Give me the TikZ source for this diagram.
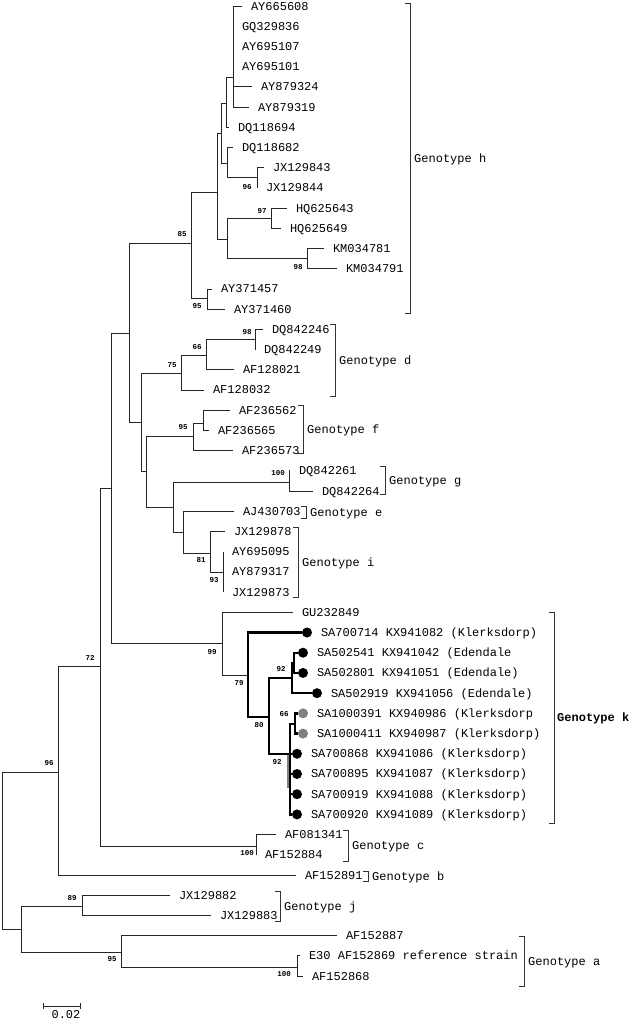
\documentclass[tikz,border=0pt]{standalone}
\usepackage{fontspec}
\setmonofont{Liberation Mono}
\usetikzlibrary{positioning}
\newcommand{\accsize}{\ttfamily\fontsize{12}{14}\selectfont}
\newcommand{\bootsize}{\ttfamily\bfseries\fontsize{7.5}{8}\selectfont}

\begin{document}
\begin{tikzpicture}[x=1pt, y=-1pt,
  br/.style={line width=0.85pt, black!85},
  kbr/.style={line width=2.4pt, black},
  leaf/.style={anchor=west, inner xsep=9pt, inner ysep=0pt, outer sep=0pt,
    text height=8pt, text depth=0pt, font=\accsize},
  sdot/.style={circle, fill=black, inner sep=0pt, outer sep=0pt, minimum size=10pt},
  boot/.style={font=\bootsize, inner sep=0pt},
  brk/.style={line width=0.85pt, black!80},
  gtype/.style={anchor=west, inner sep=0pt, text height=8pt, text depth=0pt, font=\accsize}]
\useasboundingbox[fill=white] (0,0) rectangle (631,1020);

% internal nodes of the tree
\foreach \n/\x/\y in {root/2/850, n96/58/772, nja/21/929, n72/100/666, nX1/111/488,
    nX2/129/333, n85/191/243, nD/217/192, nB/221/133, nA/226/103, nAY/233/77,
    nC/227/163, nJX/257/177, nE/227/239, nHQ/271/218, nKM/307/258, nAY371/207/298,
    nDFGEI/141/422, nd75/181/373, nd66/206/355, nd98/255/339, nFGEI/146/471,
    nf95/193/436, nf2/203/423, nGEI/173/507, ng100/289/482, nEI/183/532,
    nI81/210/553, nI93/223/572, n99/222/643, n79/248/675, n80/269/717,
    nE92/292/678, nE2/294/663, nK92/290/754, nS66/295/724, n100c/256/846,
    n89/82/906, n95a/121/952, n100a/297/967}
  \coordinate (\n) at (\x,\y);

% leaves: name / tip / row
\foreach \n/\x/\r in {AY665608/242/1, GQ329836/233/2, AY695107/233/3, AY695101/233/4,
    AY879324/252/5, AY879319/249/6, DQ118694/229/7, DQ118682/233/8, JX129843/264/9,
    JX129844/257/10, HQ625643/287/11, HQ625649/281/12, KM034781/324/13,
    KM034791/337/14, AY371457/212/15, AY371460/225/16, DQ842246/263/17,
    DQ842249/255/18, AF128021/234/19, AF128032/204/20, AF236562/230/21,
    AF236565/209/22, AF236573/233/23, DQ842261/290/24, DQ842264/313/25,
    AJ430703/234/26, JX129878/225/27, AY695095/223/28, AY879317/223/29,
    JX129873/223/30, GU232849/293/31, AF081341/276/42, AF152884/256/43,
    AF152891/296/44, JX129882/170/45, JX129883/211/46, AF152887/337/47,
    AF152868/303/49}
  \node[leaf] (\n) at (\x,{6+20.21*(\r-1)}) {\n};
\node[leaf] (AF152869) at (300,{6+20.21*47}) {E30 AF152869 reference strain};

% South African isolates
\foreach \n/\x/\r/\c/\t in {SA700714/307/32/black/{KX941082 (Klerksdorp)},
    SA502541/303/33/black/{KX941042 (Edendale}, SA502801/303/34/black/{KX941051 (Edendale)},
    SA502919/317/35/black/{KX941056 (Edendale)}, SA1000391/303/36/gray/{KX940986 (Klerksdorp},
    SA1000411/303/37/gray/{KX940987 (Klerksdorp)}, SA700868/297/38/black/{KX941086 (Klerksdorp)},
    SA700895/297/39/black/{KX941087 (Klerksdorp)}, SA700919/297/40/black/{KX941088 (Klerksdorp)},
    SA700920/297/41/black/{KX941089 (Klerksdorp)}}{
  \node[sdot, fill=\c] (d\n) at (\x,{6+20.21*(\r-1)}) {};
  \node[leaf, inner xsep=0pt, right=9pt of d\n] (\n) {\n\ \t};
}

% branches
\foreach \a/\b in {root/n96, root/nja, n96/n72, n96/AF152891, n72/nX1, n72/n100c,
    nX1/nX2, nX1/n99, nX2/n85, nX2/nDFGEI, n85/nD, n85/nAY371, nD/nB, nD/nE,
    nB/nA, nB/nC, nA/nAY, nA/DQ118694, nAY/AY665608, nAY/GQ329836, nAY/AY695107,
    nAY/AY695101, nAY/AY879324, nAY/AY879319, nC/DQ118682, nC/nJX, nJX/JX129843,
    nJX/JX129844, nE/nHQ, nE/nKM, nHQ/HQ625643, nHQ/HQ625649, nKM/KM034781,
    nKM/KM034791, nAY371/AY371457, nAY371/AY371460, nDFGEI/nd75, nDFGEI/nFGEI,
    nd75/nd66, nd75/AF128032, nd66/nd98, nd66/AF128021, nd98/DQ842246,
    nd98/DQ842249, nFGEI/nf95, nFGEI/nGEI, nf95/nf2, nf95/AF236573, nf2/AF236562,
    nf2/AF236565, nGEI/ng100, nGEI/nEI, ng100/DQ842261, ng100/DQ842264,
    nEI/AJ430703, nEI/nI81, nI81/JX129878, nI81/nI93, nI93/AY695095,
    nI93/AY879317, nI93/JX129873, n99/GU232849, n99/n79, n100c/AF081341,
    n100c/AF152884, nja/n89, nja/n95a, n89/JX129882, n89/JX129883,
    n95a/AF152887, n95a/n100a, n100a/AF152869, n100a/AF152868}
  \draw[br] (\a) |- (\b);
\foreach \a/\b in {n79/dSA700714, n79/n80, n80/nE92, n80/nK92, nE92/nE2,
    nE92/dSA502919, nE2/dSA502541, nE2/dSA502801, nK92/nS66, nK92/dSA700868,
    nK92/dSA700895, nK92/dSA700919, nK92/dSA700920, nS66/dSA1000391, nS66/dSA1000411}
  \draw[kbr] (\a) |- (\b);
\draw[gray, line width=2pt] (287.5,755) -- (287.5,788);

% bootstrap values
\foreach \v/\x/\y [count=\i] in {85/182/234, 96/247/187, 97/262/211, 98/298/267,
    95/197/306, 98/247/332, 66/197/347, 75/172/365, 95/183/427, 100/278/473,
    81/201/560, 93/214/580, 99/212/652, 79/239/683, 92/281/669, 80/259/725,
    66/284/714, 92/277/762, 72/90/658, 96/49/763, 100/247/853, 89/72/898,
    95/112/959, 100/284/974}
  \node[boot] (b\i) at (\x,\y) {\v};

% genotype brackets
\foreach \g/\x/\a/\b in {h/410/3/313, d/335/324/396, f/303/405/453, g/385/466/494,
    e/306/506/518, i/298/527/597, c/348/830/861, b/368/871/881, j/280/891/921,
    a/524/936/986}{
  \draw[brk] (\x-5,\a) -- (\x,\a) -- (\x,\b) -- (\x-5,\b);
  \node[gtype] (g\g) at (\x+4,{(\a+\b)/2}) {Genotype \g};
}
\draw[brk] (549,612) -- (554,612) -- (554,823) -- (549,823);
\node[gtype, font=\accsize\bfseries] (gk) at (557,717.5) {Genotype k};

% scale bar
\coordinate (sbL) at (43,1006);
\coordinate (sbR) at (80,1006);
\draw[br] (sbL) -- (sbR);
\draw[br] (sbL) ++(0,-3) -- ++(0,6);
\draw[br] (sbR) ++(0,-3) -- ++(0,6);
\node[font=\accsize, inner sep=0pt, text height=8pt, text depth=0pt] (sblab) at (66,1014) {0.02};
\end{tikzpicture}
\end{document}
